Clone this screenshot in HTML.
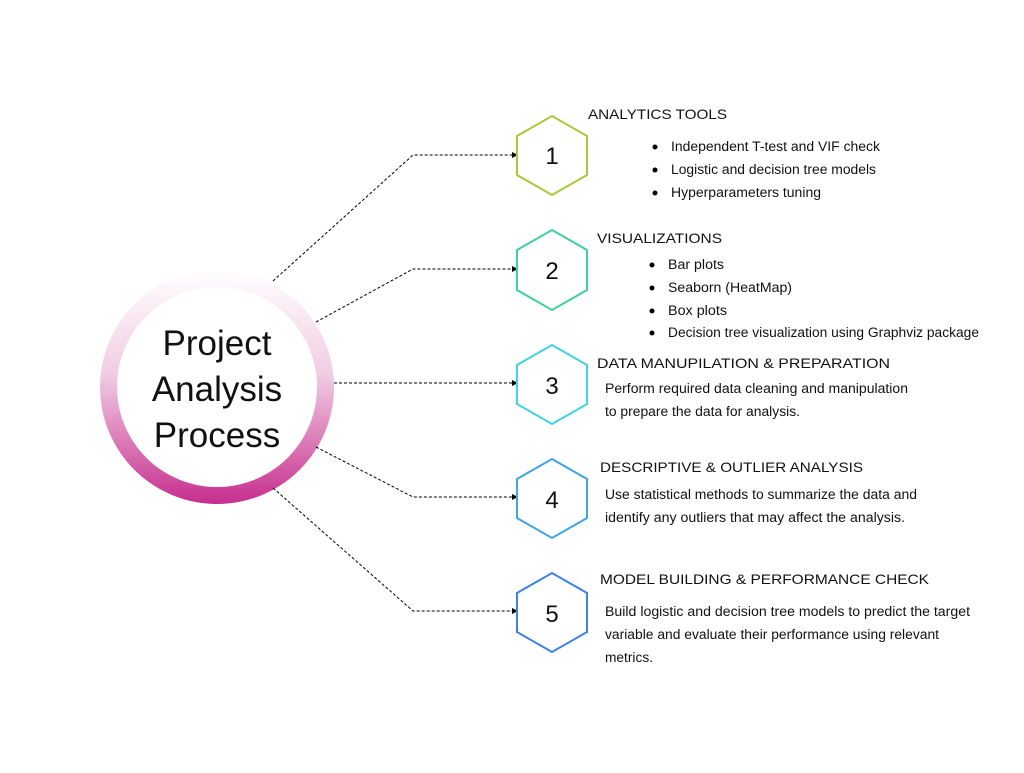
<!DOCTYPE html>
<html><head><meta charset="utf-8"><style>html,body{margin:0;padding:0;background:#fff}</style></head>
<body>
<svg width="1024" height="768" viewBox="0 0 1024 768" xmlns="http://www.w3.org/2000/svg" font-family="Liberation Sans, sans-serif">
<defs>
<linearGradient id="g" x1="0" y1="0" x2="0" y2="1">
<stop offset="0" stop-color="#ffffff"/>
<stop offset="0.45" stop-color="#f0cce2"/>
<stop offset="1" stop-color="#c72e8e"/>
</linearGradient>
<marker id="a" markerWidth="6" markerHeight="6" refX="5" refY="3" orient="auto" markerUnits="userSpaceOnUse"><path d="M0,0 L6,3 L0,6 z" fill="#000"/></marker>
</defs>
<circle cx="217" cy="387" r="117" fill="url(#g)"/>
<circle cx="217" cy="387" r="100" fill="#fff"/>
<g font-size="35" text-anchor="middle" fill="#111">
<text x="217" y="355">Project</text>
<text x="217" y="401">Analysis</text>
<text x="217" y="447">Process</text>
</g>
<g stroke="#000" stroke-width="1" stroke-dasharray="3,2" fill="none" marker-end="url(#a)">
<polyline points="273,281 413,155 517,155"/>
<polyline points="316,322 413,269 517,269"/>
<polyline points="334,383 517,383"/>
<polyline points="316,447 413,497 517,497"/>
<polyline points="273,488 413,611 517,611"/>
</g>
<g fill="none" stroke-width="2">
<polygon points="552,116 587,136 587,175 552,195 517,175 517,136" stroke="#a8c93a"/>
<polygon points="552,230 587,250 587,290 552,310 517,290 517,250" stroke="#40d09c"/>
<polygon points="552,345 587,365 587,404 552,424 517,404 517,365" stroke="#42d2e2"/>
<polygon points="552,459 587,479 587,518 552,538 517,518 517,479" stroke="#3fa6e2"/>
<polygon points="552,573 587,593 587,632 552,652 517,632 517,593" stroke="#3f82e2"/>
</g>
<g font-size="24" text-anchor="middle" fill="#111">
<text x="552" y="164">1</text><text x="552" y="279">2</text><text x="552" y="394">3</text><text x="552" y="508">4</text><text x="552" y="622">5</text>
</g>
<g font-size="14" fill="#111" lengthAdjust="spacingAndGlyphs">
<text x="588" y="119" textLength="139" lengthAdjust="spacingAndGlyphs">ANALYTICS TOOLS</text>
<text x="597" y="243" textLength="125" lengthAdjust="spacingAndGlyphs">VISUALIZATIONS</text>
<text x="597" y="368" textLength="293" lengthAdjust="spacingAndGlyphs">DATA MANUPILATION &amp; PREPARATION</text>
<text x="600" y="472" textLength="263" lengthAdjust="spacingAndGlyphs">DESCRIPTIVE &amp; OUTLIER ANALYSIS</text>
<text x="600" y="584" textLength="329" lengthAdjust="spacingAndGlyphs">MODEL BUILDING &amp; PERFORMANCE CHECK</text>
</g>
<g fill="#000">
<circle cx="655" cy="147" r="2.5"/><circle cx="655" cy="170" r="2.5"/><circle cx="655" cy="193" r="2.5"/>
<circle cx="652" cy="265" r="2.5"/><circle cx="652" cy="288" r="2.5"/><circle cx="652" cy="311" r="2.5"/><circle cx="652" cy="333" r="2.5"/>
</g>
<g font-size="13.5" fill="#111">
<text x="671" y="151" textLength="209" lengthAdjust="spacingAndGlyphs">Independent T-test and VIF check</text>
<text x="671" y="174" textLength="205" lengthAdjust="spacingAndGlyphs">Logistic and decision tree models</text>
<text x="671" y="197" textLength="150" lengthAdjust="spacingAndGlyphs">Hyperparameters tuning</text>
<text x="668" y="269" textLength="56" lengthAdjust="spacingAndGlyphs">Bar plots</text>
<text x="668" y="292" textLength="124" lengthAdjust="spacingAndGlyphs">Seaborn (HeatMap)</text>
<text x="668" y="315" textLength="59" lengthAdjust="spacingAndGlyphs">Box plots</text>
<text x="668" y="337" textLength="311" lengthAdjust="spacingAndGlyphs">Decision tree visualization using Graphviz package</text>
<text x="605" y="393" textLength="303" lengthAdjust="spacingAndGlyphs">Perform required data cleaning and manipulation</text>
<text x="605" y="416" textLength="195" lengthAdjust="spacingAndGlyphs">to prepare the data for analysis.</text>
<text x="605" y="499" textLength="312" lengthAdjust="spacingAndGlyphs">Use statistical methods to summarize the data and</text>
<text x="605" y="522" textLength="300" lengthAdjust="spacingAndGlyphs">identify any outliers that may affect the analysis.</text>
<text x="605" y="616" textLength="365" lengthAdjust="spacingAndGlyphs">Build logistic and decision tree models to predict the target</text>
<text x="605" y="639" textLength="334" lengthAdjust="spacingAndGlyphs">variable and evaluate their performance using relevant</text>
<text x="605" y="662" textLength="48" lengthAdjust="spacingAndGlyphs">metrics.</text>
</g>
</svg>
</body></html>
